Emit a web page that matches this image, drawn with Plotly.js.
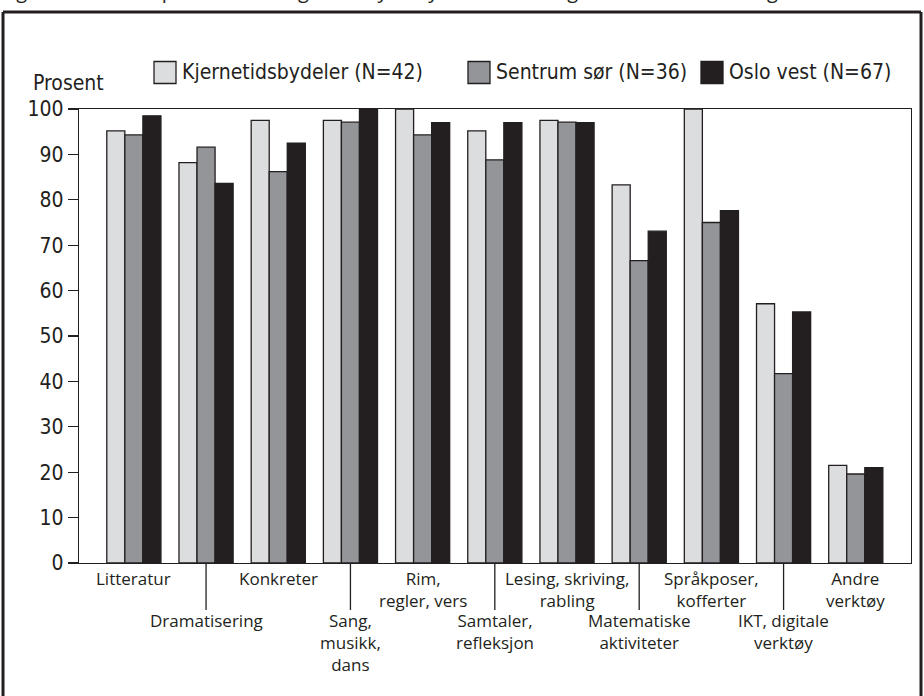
<!DOCTYPE html>
<html>
<head>
<meta charset="utf-8">
<script src="https://cdn.plot.ly/plotly-3.0.1.min.js"></script>
<style>html,body{margin:0;padding:0;background:#fff;}#chart{width:924px;height:696px;}</style>
</head>
<body>
<div id="chart"></div>
<script>
// ---- data ----
const categories = ['Litteratur', 'Dramatisering', 'Konkreter', 'Sang, musikk, dans', 'Rim, regler, vers',
  'Samtaler, refleksjon', 'Lesing, skriving, rabling', 'Matematiske aktiviteter', 'Språkposer, kofferter',
  'IKT, digitale verktøy', 'Andre verktøy'];
const tickLabels = ['Litteratur', 'Dramatisering', 'Konkreter', 'Sang,<br>musikk,<br>dans', 'Rim,<br>regler, vers',
  'Samtaler,<br>refleksjon', 'Lesing, skriving,<br>rabling', 'Matematiske<br>aktiviteter', 'Språkposer,<br>kofferter',
  'IKT, digitale<br>verktøy', 'Andre<br>verktøy'];
const seriesNames = ['Kjernetidsbydeler (N=42)', 'Sentrum sør (N=36)', 'Oslo vest (N=67)'];
const kjernetid = [95.2, 88.2, 97.5, 97.5, 100, 95.2, 97.5, 83.3, 100, 57.1, 21.5];
const sentrumSor = [94.3, 91.6, 86.2, 97.1, 94.3, 88.8, 97.1, 66.6, 75.0, 41.7, 19.6];
const osloVest = [98.5, 83.6, 92.5, 100, 97.0, 97.0, 97.0, 73.1, 77.6, 55.3, 21.0];
const yTicks = [0, 10, 20, 30, 40, 50, 60, 70, 80, 90, 100];
const yTitle = 'Prosent';
const caption = 'Figur 6.&nbsp;&nbsp;&nbsp; Hvilke språkstimuleringsverktøy benyttes i barnehagen?&nbsp;&nbsp;&nbsp; Flere svar mulig. N = 145';

// ---- styling ----
const colors = ['#dcdddf', '#939598', '#231f20'];
const ink = '#231f20';
const condFont = '"Liberation Sans Narrow", "Arial Narrow", "DejaVu Sans Condensed", sans-serif';
const bodyFont = '"Open Sans", "Noto Sans", sans-serif';

// plot-area pixel box
const L = 79, R = 911, T = 109, B = 563;
const px = x => (x - L) / (R - L);
const py = y => (B - y) / (B - T);

const values = [kjernetid, sentrumSor, osloVest];
const traces = values.map((v, i) => ({
  type: 'bar', x: categories, y: v, name: seriesNames[i],
  marker: {color: colors[i], line: {color: ink, width: 1.3}},
  showlegend: false, hoverinfo: 'x+y+name'
}));

const annotations = [];
const shapes = [];

// category labels (alternating rows) with leader lines for the lower row
categories.forEach((c, i) => {
  const lower = i % 2 === 1;
  annotations.push({
    xref: 'x', yref: 'paper', x: i, y: 0, yanchor: 'top', xanchor: 'center',
    yshift: lower ? -44 : -2, text: tickLabels[i], showarrow: false, align: 'center',
    font: {family: bodyFont, size: 17, color: ink}
  });
  if (lower) {
    shapes.push({type: 'line', xref: 'x', yref: 'paper', x0: i, x1: i, y0: 0, y1: py(610),
      line: {color: ink, width: 1.3}});
  }
});

// legend drawn with squares + text
const legendBoxX = [154, 468, 701];
seriesNames.forEach((n, i) => {
  const x0 = legendBoxX[i];
  shapes.push({type: 'rect', xref: 'paper', yref: 'paper', x0: px(x0), x1: px(x0 + 22), y0: py(83.5), y1: py(61.5),
    fillcolor: colors[i], line: {color: ink, width: 1.3}});
  annotations.push({xref: 'paper', yref: 'paper', x: px(x0 + 26), y: py(72), xanchor: 'left', yanchor: 'middle',
    text: n, showarrow: false, font: {family: condFont, size: 21, color: ink}});
});

// y-axis title
annotations.push({xref: 'paper', yref: 'paper', x: px(31), y: py(83), xanchor: 'left', yanchor: 'middle',
  text: yTitle, showarrow: false, font: {family: condFont, size: 21, color: ink}});

// caption (cut off at the top edge as in the source)
annotations.push({xref: 'paper', yref: 'paper', x: px(-1), y: py(6), xanchor: 'left', yanchor: 'bottom',
  text: caption, showarrow: false, font: {family: bodyFont, size: 20, color: ink}});

// outer frame
shapes.push({type: 'line', xref: 'paper', yref: 'paper', x0: px(3), x1: px(921), y0: py(12), y1: py(12), line: {color: ink, width: 3}});
shapes.push({type: 'line', xref: 'paper', yref: 'paper', x0: px(3), x1: px(3), y0: py(12), y1: py(700), line: {color: ink, width: 3}});
shapes.push({type: 'line', xref: 'paper', yref: 'paper', x0: px(921), x1: px(921), y0: py(12), y1: py(700), line: {color: ink, width: 3}});

const layout = {
  width: 924, height: 696,
  margin: {l: L, r: 924 - R, t: T, b: 696 - B, pad: 0},
  paper_bgcolor: '#fff', plot_bgcolor: '#fff',
  barmode: 'group', bargap: 0.25, bargroupgap: 0,
  xaxis: {type: 'category', range: [-0.76, 10.765], showticklabels: false, ticks: '',
    showline: true, mirror: true, linecolor: ink, linewidth: 1.3, showgrid: false, zeroline: false, fixedrange: true},
  yaxis: {range: [0, 100], tickvals: yTicks, ticks: 'outside', ticklen: 10, tickwidth: 1.3, tickcolor: ink,
    showline: true, mirror: true, linecolor: ink, linewidth: 1.3, showgrid: false, zeroline: false,
    tickfont: {family: condFont, size: 21, color: ink}, fixedrange: true},
  annotations: annotations, shapes: shapes, showlegend: false
};

Plotly.newPlot('chart', traces, layout, {displayModeBar: false, staticPlot: true});
</script>
</body>
</html>
